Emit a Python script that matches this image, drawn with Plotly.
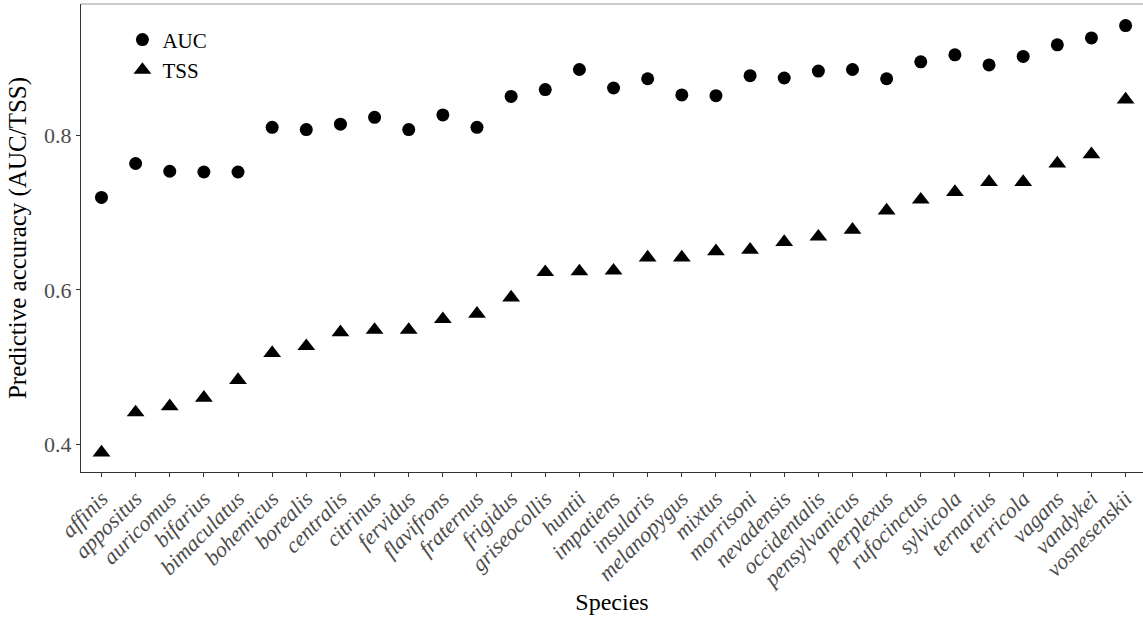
import plotly.graph_objects as go

species = ["affinis", "appositus", "auricomus", "bifarius", "bimaculatus", "bohemicus",
           "borealis", "centralis", "citrinus", "fervidus", "flavifrons", "fraternus",
           "frigidus", "griseocollis", "huntii", "impatiens", "insularis", "melanopygus",
           "mixtus", "morrisoni", "nevadensis", "occidentalis", "pensylvanicus", "perplexus",
           "rufocinctus", "sylvicola", "ternarius", "terricola", "vagans", "vandykei",
           "vosnesenskii"]

auc = [0.720, 0.764, 0.754, 0.753, 0.753, 0.811, 0.808, 0.815, 0.824, 0.808, 0.827, 0.811,
       0.851, 0.860, 0.886, 0.862, 0.874, 0.853, 0.852, 0.878, 0.875, 0.884, 0.886, 0.874,
       0.896, 0.905, 0.892, 0.903, 0.918, 0.927, 0.943]

tss = [0.389, 0.441, 0.449, 0.460, 0.483, 0.518, 0.527, 0.545, 0.548, 0.548, 0.562, 0.569,
       0.590, 0.623, 0.624, 0.625, 0.642, 0.642, 0.650, 0.652, 0.662, 0.669, 0.678, 0.703,
       0.717, 0.727, 0.740, 0.740, 0.764, 0.776, 0.847]

y_ticks = [0.4, 0.6, 0.8]

FONT = "Liberation Serif"

fig = go.Figure()
fig.add_trace(go.Scatter(x=species, y=auc, mode="markers", name="AUC", legendgroup="a",
                         marker=dict(symbol="circle", size=13, color="black")))
fig.add_trace(go.Scatter(x=species, y=tss, mode="markers", name="TSS", legendgroup="b",
                         marker=dict(symbol="triangle-up", size=15.5, color="black")))

fig.update_layout(
    width=1143, height=621,
    margin=dict(l=81, r=0, t=4, b=149),
    plot_bgcolor="white", paper_bgcolor="white",
    font=dict(family=FONT, size=18, color="black"),
    showlegend=True,
    legend=dict(x=0.039, y=0.967, xanchor="left", yanchor="top",
                font=dict(family=FONT, size=21, color="black"),
                bgcolor="rgba(0,0,0,0)", traceorder="grouped", tracegroupgap=0),
    xaxis=dict(
        type="category", range=[-0.6, 30.51],
        showline=True, linecolor="#333333", linewidth=1,
        ticks="outside", ticklen=4, tickcolor="#333333",
        tickangle=-45, showgrid=False, zeroline=False,
        tickfont=dict(family=FONT, size=22, color="#4D4D4D", style="italic"),
        title=dict(text="Species", font=dict(family=FONT, size=24, color="black"), standoff=1),
    ),
    yaxis=dict(
        range=[0.3637, 0.971],
        tickvals=y_ticks, ticktext=[f"{v:.1f}" for v in y_ticks],
        showline=True, linecolor="#333333", linewidth=1,
        ticks="outside", ticklen=4, tickcolor="#333333",
        showgrid=False, zeroline=False,
        tickfont=dict(family=FONT, size=22, color="#4D4D4D"),
        title=dict(text="Predictive accuracy (AUC/TSS)", font=dict(family=FONT, size=25, color="black"), standoff=10),
    ),
    shapes=[dict(type="line", xref="paper", yref="paper", x0=0, x1=1, y0=1, y1=1,
                 line=dict(color="#999999", width=1))],
)

fig.write_html("out.html")
